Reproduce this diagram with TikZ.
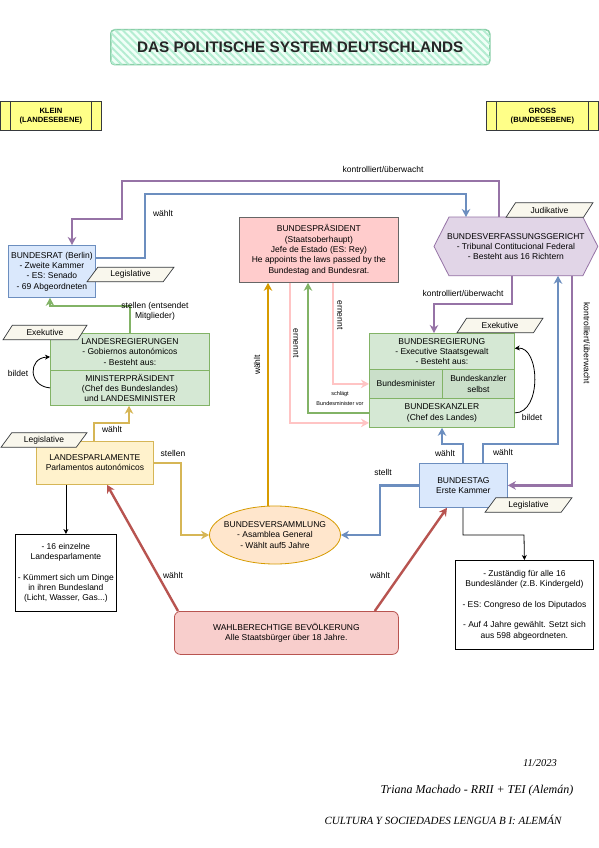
\documentclass[tikz,border=0pt]{standalone}
\usepackage{fontspec}
\setmainfont{Liberation Sans}
\newfontfamily\footfont{Liberation Serif}
\usetikzlibrary{arrows.meta,calc,shapes.geometric,patterns.meta,backgrounds}
\definecolor{bfill}{HTML}{DAE8FC}\definecolor{bline}{HTML}{6C8EBF}
\definecolor{gfill}{HTML}{D5E8D4}\definecolor{gline}{HTML}{82B366}
\definecolor{gmid}{HTML}{CADFC9}
\definecolor{rfill}{HTML}{F8CECC}\definecolor{rline}{HTML}{B85450}
\definecolor{yfill}{HTML}{FFF2CC}\definecolor{yline}{HTML}{D6B656}
\definecolor{ofill}{HTML}{FFE6CC}\definecolor{oline}{HTML}{D79B00}
\definecolor{pfill}{HTML}{E1D5E7}\definecolor{pline}{HTML}{9673A6}
\definecolor{pkfill}{HTML}{FFCCCC}\definecolor{pkline}{HTML}{FFC4C4}
\definecolor{tfill}{HTML}{F9F7ED}\definecolor{tline}{HTML}{36393D}
\definecolor{kfill}{HTML}{FFFF88}
\definecolor{mintbg}{HTML}{F0FFF7}\definecolor{mint}{HTML}{B4EDD2}\definecolor{mintline}{HTML}{8ACFA8}
\definecolor{grayline}{HTML}{666666}
\newcommand\bodyfs{\fontsize{8.5}{10.3}\selectfont}
\newcommand\tinyfs{\fontsize{5.5}{7}\selectfont}
\begin{document}
\begin{tikzpicture}[x=1pt,y=-1pt,
  box/.style={draw, line width=0.8pt, align=center, anchor=north west, inner sep=1pt, font=\bodyfs},
  tag/.style={trapezium, trapezium left angle=50, trapezium right angle=130, trapezium stretches=true,
     draw=tline, fill=tfill, line width=0.7pt, minimum height=14.5pt, inner sep=0pt, font=\bodyfs},
  lbl/.style={font=\bodyfs, inner sep=0pt, align=center},
  con/.style={line width=2.4pt, -{Stealth[length=8pt,width=8.5pt,inset=2.5pt]}},
  thinarr/.style={line width=0.8pt, -{Stealth[length=5pt,width=5pt,inset=1.5pt]}},
  note/.style={box, draw=black, fill=white},
  lvl/.style={draw=tline, fill=kfill, line width=0.8pt, anchor=north west, align=center,
     font=\fontsize{7.6}{9}\selectfont\bfseries, inner sep=0pt},
  foot/.style={font=\footfont\itshape, inner sep=0pt}
]
\begin{scope}[on background layer]
  \fill[white] (0,0) rectangle (599,848);
\end{scope}
\useasboundingbox (0,0) rectangle (599,848);

% title
\node[draw=mintline, line width=1.5pt, rounded corners=4pt, fill=mintbg, minimum width=379pt, minimum height=35pt,
  anchor=north west, font=\fontsize{15.3}{17}\selectfont\bfseries, text=black!85,
  postaction={pattern={Lines[angle=-45,distance=5pt,line width=2pt]}, pattern color=mint}] (title) at (110,29)
  {DAS POLITISCHE SYSTEM DEUTSCHLANDS};

% levels
\node[lvl, minimum width=101pt, minimum height=29pt] (klein) at (0,101) {KLEIN\\(LANDESEBENE)};
\draw[tline, line width=0.8pt] ($(klein.north west)+(10,0)$) -- ($(klein.south west)+(10,0)$);
\draw[tline, line width=0.8pt] ($(klein.north east)+(-10,0)$) -- ($(klein.south east)+(-10,0)$);
\node[lvl, minimum width=112pt, minimum height=29pt] (gross) at (486,101) {GROSS\\(BUNDESEBENE)};
\draw[tline, line width=0.8pt] ($(gross.north west)+(10,0)$) -- ($(gross.south west)+(10,0)$);
\draw[tline, line width=0.8pt] ($(gross.north east)+(-10,0)$) -- ($(gross.south east)+(-10,0)$);

% main boxes
\node[box, draw=bline, fill=bfill, minimum width=87pt, minimum height=52pt] (brat) at (8,245)
  {BUNDESRAT (Berlin)\\- Zweite Kammer\\- ES: Senado\\- 69 Abgeordneten};
\node[box, draw=grayline, fill=pkfill, minimum width=159pt, minimum height=65pt] (praes) at (239,217)
  {BUNDESPRÄSIDENT\\(Staatsoberhaupt)\\Jefe de Estado (ES: Rey)\\He appoints the laws passed by the\\Bundestag and Bundesrat.};
\node[box, draw=none, minimum width=163pt, minimum height=58pt, inner sep=0pt] (bvg) at (434,217)
  {BUNDESVERFASSUNGSGERICHT\\- Tribunal Contitucional Federal\\- Besteht aus 16 Richtern};
\begin{scope}[on background layer]
  \draw[pline, fill=pfill, line width=0.8pt] (bvg.west) -- ($(bvg.north west)+(15,0)$) -- ($(bvg.north east)+(-15,0)$)
    -- (bvg.east) -- ($(bvg.south east)+(-15,0)$) -- ($(bvg.south west)+(15,0)$) -- cycle;
\end{scope}
\node[box, draw=gline, fill=gfill, minimum width=159pt, minimum height=37pt] (lregtop) at (50,333)
  {LANDESREGIERUNGEN\\- Gobiernos autonómicos\\- Besteht aus:};
\node[box, draw=gline, fill=gfill, minimum width=159pt, minimum height=35pt] (lmin) at (50,370)
  {MINISTERPRÄSIDENT\\(Chef des Bundeslandes)\\und LANDESMINISTER};
\node[box, draw=gline, fill=gfill, minimum width=145pt, minimum height=36pt] (bregtop) at (369,333)
  {BUNDESREGIERUNG\\- Executive Staatsgewalt\\- Besteht aus:};
\node[box, draw=gline, fill=gmid, minimum width=73pt, minimum height=29pt] (bmin) at (369,369) {Bundesminister};
\node[box, draw=gline, fill=gmid, minimum width=72pt, minimum height=29pt] (bks) at (442,369) {Bundeskanzler\\selbst};
\node[box, draw=gline, fill=gfill, minimum width=145pt, minimum height=29pt] (bk) at (369,398)
  {BUNDESKANZLER\\(Chef des Landes)};
\node[box, draw=yline, fill=yfill, minimum width=117pt, minimum height=43pt] (lparl) at (36,441)
  {LANDESPARLAMENTE\\Parlamentos autonómicos};
\node[note, minimum width=101pt, minimum height=77pt] (note1) at (15,534)
  {- 16 einzelne\\Landesparlamente\\[10.3pt]- Kümmert sich um Dinge\\in ihren Bundesland\\(Licht, Wasser, Gas...)};
\node[box, draw=bline, fill=bfill, minimum width=88pt, minimum height=44pt] (btag) at (419,463)
  {BUNDESTAG\\Erste Kammer};
\node[note, minimum width=138pt, minimum height=89pt] (note2) at (455,560)
  {- Zuständig für alle 16\\Bundesländer (z.B. Kindergeld)\\[10.3pt]- ES: Congreso de los Diputados\\[10.3pt]- Auf 4 Jahre gewählt. Setzt sich\\aus 598 abgeordneten.};
\node[ellipse, draw=oline, fill=ofill, line width=0.8pt, minimum width=131pt, minimum height=58pt,
  inner xsep=-14pt, inner ysep=-4pt, align=center, font=\bodyfs] (bv) at (275,535)
  {BUNDESVERSAMMLUNG\\- Asamblea General\\- Wählt auf5 Jahre};
\node[box, draw=rline, fill=rfill, rounded corners=6pt, minimum width=224pt, minimum height=43pt] (wahl) at (174,611)
  {WAHLBERECHTIGE BEVÖLKERUNG\\Alle Staatsbürger über 18 Jahre.};

% tags
\node[tag, minimum width=87pt] (tleg1) at (130.5,274.5) {Legislative};
\node[tag, minimum width=87pt] (tjud) at (549.5,210) {Judikative};
\node[tag, minimum width=84pt] (texe1) at (45,332.5) {Exekutive};
\node[tag, minimum width=86pt] (texe2) at (500,325.5) {Exekutive};
\node[tag, minimum width=86pt] (tleg2) at (44,440) {Legislative};
\node[tag, minimum width=87pt] (tleg3) at (528.5,505) {Legislative};

% connectors
\draw[con, color=pline] ($(bvg.north west)+(65,0)$) |- (122,181) |- (72,219) -- ($(brat.north west)+(64,0)$);
\draw[con, color=bline] ($(brat.north east)+(0,13)$) -| (145,194) -| ($(bvg.north west)+(32,0)$);
\draw[con, color=pline] ($(bvg.south west)+(78,0)$) |- (434,304) -- ($(bregtop.north west)+(65,0)$);
\draw[con, color=pline] ($(bvg.south west)+(138,0)$) |- (btag.east);
\draw[con, color=bline] ($(btag.north west)+(64,0)$) |- (558,444) -- ($(bvg.south west)+(124,0)$);
\draw[con, color=bline] ($(btag.north west)+(44,0)$) |- (442,444) -- ($(bk.south west)+(73,0)$);
\draw[con, color=bline] (btag.west) -| (380,535) -- (bv.east);
\coordinate (o1) at ($(praes.south west)+(29,0)$);
\draw[con, color=oline] (bv.north -| o1) -- (o1);
\draw[con, color=pkline, line width=2pt] ($(praes.south west)+(94,0)$) |- (bmin.west);
\draw[con, color=pkline, line width=2pt] ($(praes.south west)+(51,0)$) |- ($(bk.west)+(0,10)$);
\draw[con, color=gline, line width=2.2pt] (bk.west) -| ($(praes.south west)+(69,0)$);
\draw[thinarr] (bk.east) .. controls (542,413) and (540,346) .. ($(bregtop.east)+(0,-3)$);
\draw[thinarr] (lmin.west) .. controls (28,386) and (28,358) .. ($(lregtop.west)+(0,5)$);
\draw[con, color=gline, line width=2.2pt] ($(lregtop.north west)+(80,0)$) |- (50,306) -- ($(brat.south west)+(42,0)$);
\draw[con, color=yline] ($(lparl.north west)+(58,0)$) |- (129,423) -- ($(lmin.south west)+(79,0)$);
\draw[con, color=yline] (lparl.east) -| (181,535) -- (bv.west);
\draw[thinarr] (lparl.south -| note1.north) -- (note1.north);
\draw[thinarr] ($(btag.south west)+(44,0)$) |- (524,535) -- (note2.north);
\draw[con, color=rline] ($(wahl.north west)+(4,0)$) -- ($(lparl.south west)+(71,0)$);
\draw[con, color=rline] ($(wahl.north east)+(-24,0)$) -- ($(btag.south west)+(28,0)$);

% labels
\node[lbl] (l1) at (383,169) {kontrolliert/überwacht};
\node[lbl] (l2) at (163,213) {wählt};
\node[lbl] (l3) at (463,293) {kontrolliert/überwacht};
\node[lbl, rotate=-90] (l4) at (587,343) {kontrolliert/überwacht};
\node[lbl] (l5) at (155,311) {stellen (entsendet\\Mitglieder)};
\node[lbl] (l6) at (18,373) {bildet};
\node[lbl] (l7) at (532,417) {bildet};
\node[lbl, rotate=90] (l8) at (257,365) {wählt};
\node[lbl, rotate=-90] (l9) at (340,315) {ernennt};
\node[lbl, rotate=-90] (l10) at (296,343) {ernennt};
\node[lbl, font=\tinyfs] (l11) at (340,394) {schlägt};
\node[lbl, font=\tinyfs] (l12) at (340,404) {Bundesminister vor};
\node[lbl] (l13) at (112,429) {wählt};
\node[lbl] (l14) at (173,453) {stellen};
\node[lbl] (l15) at (445,453) {wählt};
\node[lbl] (l16) at (503,452) {wählt};
\node[lbl] (l17) at (383,472) {stellt};
\node[lbl] (l18) at (173,575) {wählt};
\node[lbl] (l19) at (380,575) {wählt};

% footer
\node[foot, font=\footfont\itshape\fontsize{10.5}{12}\selectfont] (date) at (540,763) {11/2023};
\node[foot, font=\footfont\itshape\fontsize{12}{14}\selectfont] (author) at (477,791) {Triana Machado - RRII + TEI (Alemán)};
\node[foot, font=\footfont\itshape\fontsize{11}{13}\selectfont] (course) at (443,820) {CULTURA Y SOCIEDADES LENGUA B I: ALEMÁN};
\end{tikzpicture}
\end{document}
